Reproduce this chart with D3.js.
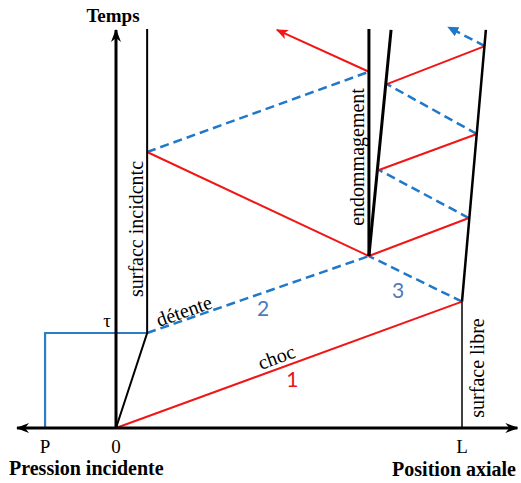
<!DOCTYPE html>
<html><head><meta charset="utf-8">
<script src="https://cdn.jsdelivr.net/npm/d3@7"></script>
<style>body{margin:0;background:#fff}svg{display:block}</style>
</head><body>
<svg id="c" width="521" height="483"></svg>
<script>
// ---- data (position u in units with L = 10, time t in units with tau = 1) ----
const L = 10, tau = 1, P = -2.05, tTop = 4.2;
const axisU = [-2.86, 11.6];
const axisT = [0, 4.19];
// interfaces (black)
const incidentSurface = [[0,0],[0.9,tau],[0.9,tTop]];
const freeSurface = [[L,0],[L,1.33],[10.69,4.19]];
const crackLeft = [[7.31,1.81],[7.31,tTop]];
const crackRight = [[7.31,1.81],[7.95,4.19]];
// incident pulse (blue solid)
const pulse = [[P,0],[P,tau],[0.9,tau]];
// shock waves (red solid)
const shocks = [
  [[0,0],[L,1.33]],
  [[7.31,1.81],[0.9,2.905]],
  [[7.31,1.81],[10.2,2.21]],
  [[7.6,2.716],[10.43,3.095]],
  [[7.83,3.62],[10.66,4.02]]
];
const shockOut = [[7.31,3.75],[4.65,4.19]];
// release waves (blue dashed)
const releases = [
  [[0.9,tau],[7.31,1.81]],
  [[L,1.33],[7.31,1.81]],
  [[0.9,2.905],[7.31,3.75]],
  [[10.2,2.21],[7.6,2.716]],
  [[10.43,3.095],[7.83,3.62]]
];
const releaseOut = [[10.66,4.02],[9.6,4.22]];
const tickLabels = [{u:P,t:"P"},{u:0,t:"0"},{u:L,t:"L"}];
const waveNums = [{n:"1",u:5.1,t:0.43,c:"#e8141b"},{n:"2",u:4.25,t:1.18,c:"#4d79bd"},{n:"3",u:8.15,t:1.37,c:"#4d79bd"}];

const x = d3.scaleLinear().domain([0,L]).range([116,462]);
const y = d3.scaleLinear().domain([0,tau]).range([428,333]);
const svg = d3.select("#c");
const line = d3.line().x(d=>x(d[0])).y(d=>y(d[1]));
const RED="#f01616", BLUE="#1f78c8", BLACK="#000";

// defs: arrow markers
const defs = svg.append("defs");
function marker(id,color,path,w,h,refX){
  defs.append("marker").attr("id",id).attr("viewBox",`0 ${-h/2} ${w} ${h}`)
    .attr("refX",refX).attr("refY",0).attr("markerWidth",w).attr("markerHeight",h)
    .attr("markerUnits","userSpaceOnUse").attr("orient","auto")
    .append("path").attr("d",path).attr("fill",color);
}
marker("stealth",BLACK,"M0,-5 L13,0 L0,5 L4,0 Z",13,10,12);
marker("redA",RED,"M0,-5 L12,0 L0,5 L3,0 Z",12,10,11);
marker("blueA",BLUE,"M0,-5 L11,0 L0,5 Z",11,10,10);

// pulse
svg.append("path").attr("d",line(pulse)).attr("fill","none").attr("stroke","#2d7cc6").attr("stroke-width",2.2);

// release waves
releases.forEach(s=>svg.append("path").attr("d",line(s)).attr("fill","none")
  .attr("stroke",BLUE).attr("stroke-width",2.5).attr("stroke-dasharray","9,5"));
svg.append("path").attr("d",line(releaseOut)).attr("fill","none")
  .attr("stroke",BLUE).attr("stroke-width",2.5).attr("stroke-dasharray","9,5").attr("marker-end","url(#blueA)");

// shocks
shocks.forEach(s=>svg.append("path").attr("d",line(s)).attr("fill","none")
  .attr("stroke",RED).attr("stroke-width",2));
svg.append("path").attr("d",line(shockOut)).attr("fill","none")
  .attr("stroke",RED).attr("stroke-width",2).attr("marker-end","url(#redA)");

// interfaces
svg.append("path").attr("d",line(incidentSurface)).attr("fill","none").attr("stroke",BLACK).attr("stroke-width",2);
svg.append("path").attr("d",line(freeSurface.slice(0,2))).attr("fill","none").attr("stroke",BLACK).attr("stroke-width",1.5);
svg.append("path").attr("d",line(freeSurface.slice(1))).attr("fill","none").attr("stroke",BLACK).attr("stroke-width",2.5);
svg.append("path").attr("d",line(crackLeft)).attr("fill","none").attr("stroke",BLACK).attr("stroke-width",3);
svg.append("path").attr("d",line(crackRight)).attr("fill","none").attr("stroke",BLACK).attr("stroke-width",3);

// axes
svg.append("path").attr("d",line([[0,0],[axisU[0],0]])).attr("stroke",BLACK).attr("stroke-width",3).attr("marker-end","url(#stealth)");
svg.append("path").attr("d",line([[0,0],[axisU[1],0]])).attr("stroke",BLACK).attr("stroke-width",3).attr("marker-end","url(#stealth)");
svg.append("path").attr("d",line([[0,0],[0,axisT[1]]])).attr("stroke",BLACK).attr("stroke-width",3).attr("marker-end","url(#stealth)");

const serif = "'Liberation Serif','Times New Roman',serif";
// tick labels
tickLabels.forEach(d=>svg.append("text").attr("x",x(d.u)).attr("y",453)
  .attr("text-anchor","middle").attr("font-family",serif).attr("font-size",19).text(d.t));
svg.append("text").attr("x",107).attr("y",327).attr("text-anchor","middle")
  .attr("font-family",serif).attr("font-size",19).text("τ");

// axis titles
svg.append("text").attr("x",113).attr("y",22).attr("text-anchor","middle")
  .attr("font-family",serif).attr("font-weight","bold").attr("font-size",19).text("Temps");
svg.append("text").attr("x",9).attr("y",475).attr("font-family",serif)
  .attr("font-weight","bold").attr("font-size",20).text("Pression incidente");
svg.append("text").attr("x",516).attr("y",476).attr("text-anchor","end").attr("font-family",serif)
  .attr("font-weight","bold").attr("font-size",20).text("Position axiale");

// rotated labels
function vlabel(px,py,txt){
  svg.append("text").attr("transform",`translate(${px},${py}) rotate(-90)`)
    .attr("text-anchor","middle").attr("font-family",serif).attr("font-size",20).text(txt);
}
vlabel(142.5,229,"surfacc incidcntc");
vlabel(364,157,"endommagement");
vlabel(483.5,368,"surface libre");
function slabel(px,py,ang,txt){
  svg.append("text").attr("transform",`translate(${px},${py}) rotate(${ang})`)
    .attr("font-family",serif).attr("font-size",20).text(txt);
}
slabel(159,327,-19.5,"détente");
slabel(261,370,-20,"choc");

// wave numbers
waveNums.forEach(d=>svg.append("text").attr("x",x(d.u)).attr("y",y(d.t)).attr("text-anchor","middle")
  .attr("font-family","Lato,'Open Sans',sans-serif").attr("font-size",21).attr("fill",d.c).text(d.n));
</script>
</body></html>
